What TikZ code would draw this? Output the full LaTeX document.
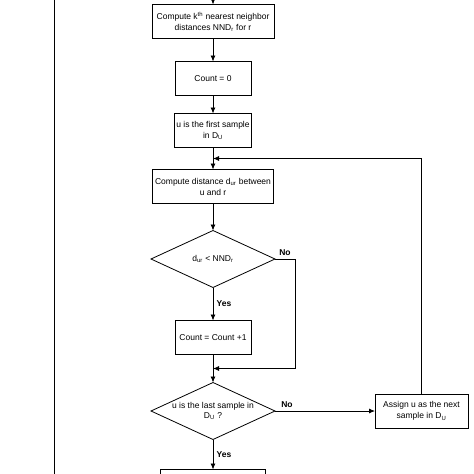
\documentclass[tikz,border=0pt]{standalone}
\usepackage{fontspec}
\setmainfont{Liberation Sans}
\usepackage{tikz}
\usetikzlibrary{shapes.geometric,positioning,arrows.meta}
\tikzset{>={Latex[length=6pt,width=5pt]}}

\begin{document}
\begin{tikzpicture}[x=1pt,y=1pt,
squarednode/.style={rectangle, align=center, draw=black, thick, outer sep=0pt, minimum height=34pt, inner sep=2pt, font=\fontsize{8.5}{11}\selectfont},
decisionnode/.style={diamond, aspect=2.2, align=center, draw=black, thick, outer sep=0pt, inner xsep=0pt, inner ysep=-4pt, minimum width=124pt, minimum height=57pt, font=\fontsize{8.5}{10}\selectfont},
flow/.style={thick, ->},
answer/.style={font=\fontsize{8.5}{10}\selectfont\bfseries},
]
\useasboundingbox (0,0) rectangle (474,-474);
\clip (0,0) rectangle (474,-474);

%Nodes
\node[squarednode, minimum width=122pt](NND) at (213,-21.5){Compute k\textsuperscript{th} nearest neighbor\\ distances NND\textsubscript{r} for r};
\node[squarednode, minimum width=76pt](Count)[below=23pt of NND]{Count = 0};
\node[squarednode, minimum width=76pt](First)[below=18pt of Count]{u is the first sample\\ in D\textsubscript{U}};
\node[squarednode, minimum width=121pt](Distance)[below=22pt of First]{Compute distance d\textsubscript{ur} between\\ u and r};
\node[decisionnode](Check)[below=27pt of Distance]{d\textsubscript{ur} < NND\textsubscript{r}};
\node[squarednode, minimum width=76pt](Increment)[below=33pt of Check]{Count = Count +1};
\node[decisionnode](Last)[below=28pt of Increment]{u is the last sample in\\ D\textsubscript{U} ?};
\node[squarednode, minimum width=93pt](Next)[right=100pt of Last]{Assign u as the next\\ sample in D\textsubscript{U}};
\node[squarednode, minimum width=105pt](End)[below=30pt of Last]{};
\coordinate (Entry) at (213,2);
\coordinate (Loop top) at (54,2);
\coordinate (Loop bottom) at (54,-478);

%Lines
\draw[flow] (Entry) -- (NND);
\draw[flow] (NND) -- (Count);
\draw[flow] (Count) -- (First);
\draw[flow] (First) -- (Distance);
\draw[flow] (Distance) -- (Check);
\draw[flow] (Check) -- node[answer, right]{Yes} (Increment);
\draw[flow] (Check.east) -- node[answer, above]{No} ++(20,0) |- ([yshift=-14pt]Increment.south);
\draw[flow] (Increment) -- (Last);
\draw[flow] (Last) -- node[answer, right]{Yes} (End);
\draw[flow] (Last) -- node[answer, above, pos=0.12]{No} (Next);
\draw[flow] (Next.north) |- ([yshift=-11pt]First.south);
\draw[thick] (Loop top) -- (Loop bottom);

\end{tikzpicture}
\end{document}
